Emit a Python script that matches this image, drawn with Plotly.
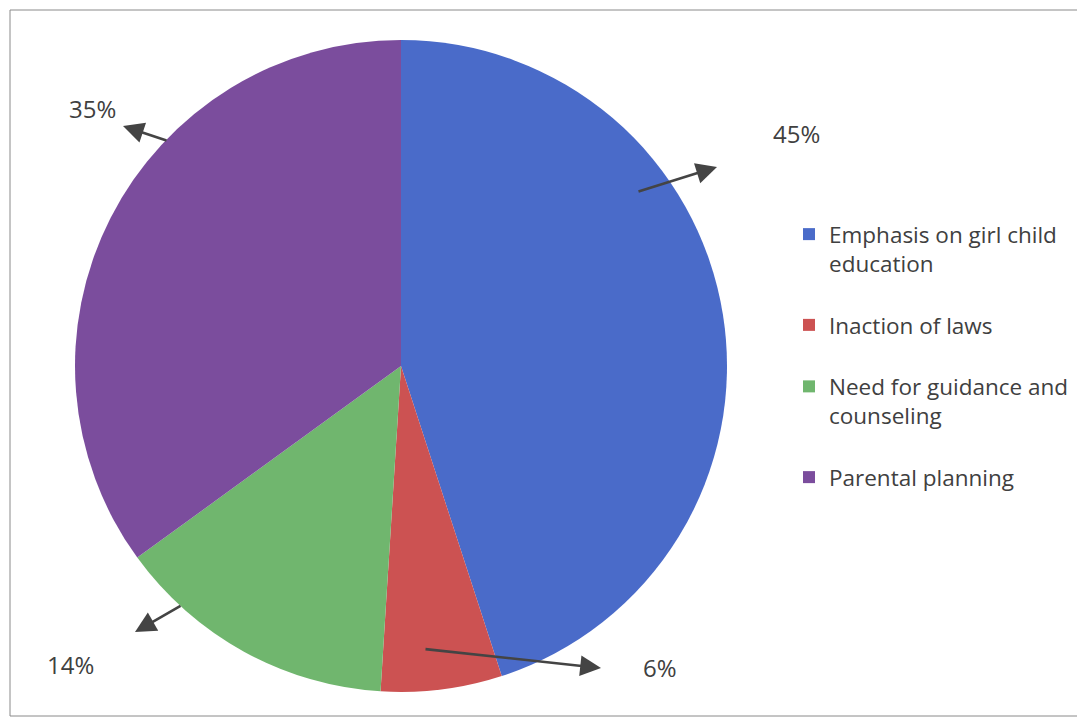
import plotly.graph_objects as go

# ---- data ----
categories = ["Emphasis on girl child<br>education<br> ", "Inaction of laws<br> ",
              "Need for guidance and<br>counseling<br> ", "Parental planning"]
values = [45, 6, 14, 35]
colors = ["#4a6bc9", "#cc5252", "#70b66e", "#7b4d9d"]

W, H = 1085, 719
OFF = 8  # page body margin compensation

# label placement (pixel positions in page: text centre, arrow tail, arrow head) - layout only
label_pos = [(796, 134), (660, 667), (70, 664), (92, 109)]
arrow_tail = [(637, 192), (424, 649), (182, 605), (168, 141)]
arrow_head = [(717, 167), (601, 668), (135, 632), (123, 126)]

# pie geometry in page pixels
CX, CY, R = 401, 366, 326

total = sum(values)
pct_text = [f"{round(v / total * 100)}%" for v in values]


def px(x):
    return (x - OFF) / W


def py(y):
    return 1 - (y - OFF) / H


fig = go.Figure(go.Pie(
    labels=categories,
    values=values,
    sort=False,
    direction="clockwise",
    rotation=0,
    marker=dict(colors=colors, line=dict(width=0)),
    textinfo="none",
    hoverinfo="percent",
    domain=dict(x=[px(CX - R), px(CX + R)], y=[py(CY + R), py(CY - R)]),
))

ann = []
for t, (lx, ly), (tx, ty), (hx, hy) in zip(pct_text, label_pos, arrow_tail, arrow_head):
    ann.append(dict(x=px(lx), y=py(ly), xref="paper", yref="paper", text=t,
                    xanchor="center", yanchor="middle",
                    showarrow=False, font=dict(size=24, color="#404040",
                                               family="Open Sans, sans-serif")))
    ann.append(dict(x=px(hx), y=py(hy), xref="paper", yref="paper", text="",
                    showarrow=True, ax=tx - hx, ay=ty - hy, axref="pixel", ayref="pixel",
                    arrowhead=2, arrowsize=1.6, arrowwidth=2.6, arrowcolor="#444444",
                    standoff=0, startstandoff=0))

fig.update_layout(
    width=W, height=H,
    margin=dict(l=0, r=0, t=0, b=0),
    paper_bgcolor="white",
    plot_bgcolor="white",
    showlegend=True,
    legend=dict(x=px(829) - 40 / W, y=py(234) + 21 / H, xanchor="left", yanchor="top",
                valign="top", itemwidth=30, tracegroupgap=0,
                font=dict(size=22.5, color="#404040", family="Open Sans, sans-serif")),
    annotations=ann,
    shapes=[dict(type="rect", xref="paper", yref="paper",
                 x0=px(10), x1=1.02, y0=py(716), y1=py(10),
                 line=dict(color="#8a8a8a", width=1))],
)

fig.write_html("out.html")
